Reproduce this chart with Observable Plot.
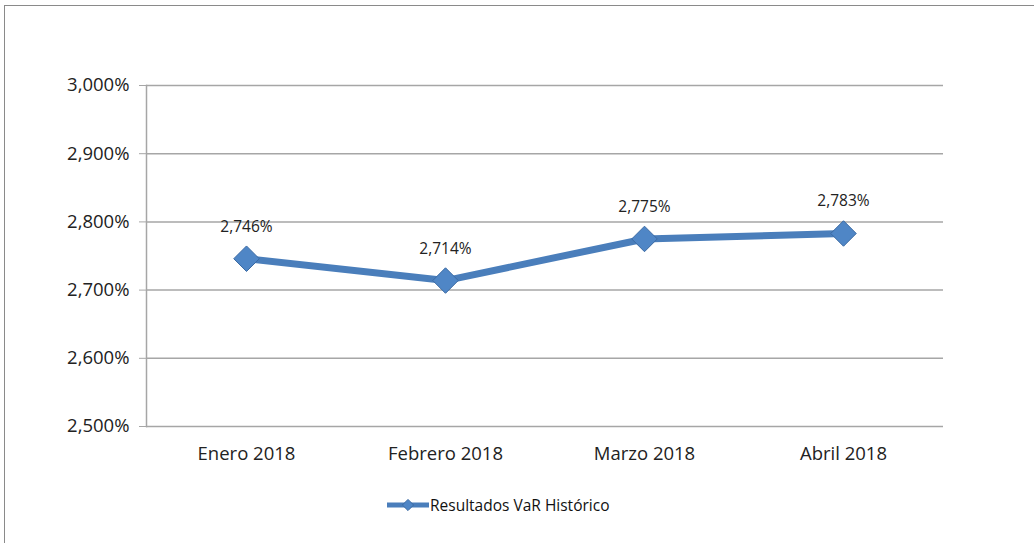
<!DOCTYPE html>
<html>
<head>
<meta charset="utf-8">
<script src="https://cdn.jsdelivr.net/npm/d3@7"></script>
<script src="https://cdn.jsdelivr.net/npm/@observablehq/plot@0.6"></script>
<style>
  html, body { margin: 0; padding: 0; background: #fff; width: 1034px; height: 543px; overflow: hidden; }
  #frame { position: absolute; left: 4px; top: 5px; width: 1040px; height: 560px; border: 1.5px solid #8a8a8a; box-sizing: border-box; }
  #chart { position: absolute; left: 0; top: 0; }
  #legend { position: absolute; left: 386px; top: 494px; display: flex; align-items: center; font-family: "Open Sans", "Noto Sans", sans-serif; font-size: 15.5px; color: #111; }
</style>
</head>
<body>
<div id="frame"></div>
<div id="chart"></div>
<div id="legend"></div>
<script>
const categories = ["Enero 2018", "Febrero 2018", "Marzo 2018", "Abril 2018"];
const values = [2.746, 2.714, 2.775, 2.783];
const yTicks = [2.5, 2.6, 2.7, 2.8, 2.9, 3.0];
const seriesName = "Resultados VaR Histórico";

const lineColor = "#4a7ebb";
const fmt = v => d3.format(".3f")(v).replace(".", ",") + "%";
const data = categories.map((c, i) => ({cat: c, v: values[i]}));

const chart = Plot.plot({
  width: 1034,
  height: 478,
  marginLeft: 146,
  marginRight: 91,
  marginTop: 85,
  marginBottom: 52,
  style: { fontFamily: "'Open Sans', 'Noto Sans', sans-serif", background: "transparent" },
  x: { type: "point", domain: categories, padding: 0.5, label: null },
  y: { domain: [2.5, 3.0], label: null },
  marks: [
    Plot.gridY(yTicks, { stroke: "#a6a6a6", strokeOpacity: 1, strokeWidth: 1.5 }),
    Plot.frame({ anchor: "left", stroke: "#a6a6a6", strokeWidth: 1.5 }),
    Plot.axisY(yTicks, { tickFormat: fmt, tickSize: 7, tickPadding: 10, stroke: "#a6a6a6", fontSize: 18.5, fill: "#222" }),
    Plot.axisX({ tickSize: 0, tickPadding: 20, fontSize: 18.5, fill: "#222" }),
    Plot.line(data, { x: "cat", y: "v", stroke: lineColor, strokeWidth: 7 }),
    Plot.dot(data, { x: "cat", y: "v", symbol: "diamond2", r: 11.5, fill: "#4f86c6", stroke: "#3b6aa3", strokeWidth: 1 }),
    Plot.text(data, { x: "cat", y: "v", text: d => fmt(d.v), dy: -32, fontSize: 15.5, fill: "#222" })
  ]
});
document.getElementById("chart").appendChild(chart);

// Legend
const lg = d3.select("#legend");
const sw = lg.append("svg").attr("width", 44).attr("height", 22);
sw.append("line").attr("x1", 1).attr("x2", 43).attr("y1", 11).attr("y2", 11).attr("stroke", lineColor).attr("stroke-width", 5);
sw.append("path").attr("d", d3.symbol(d3.symbolDiamond2, 80)()).attr("transform", "translate(22,11)").attr("fill", "#4f86c6").attr("stroke", "#3b6aa3");
lg.append("span").text(seriesName);
</script>
</body>
</html>
